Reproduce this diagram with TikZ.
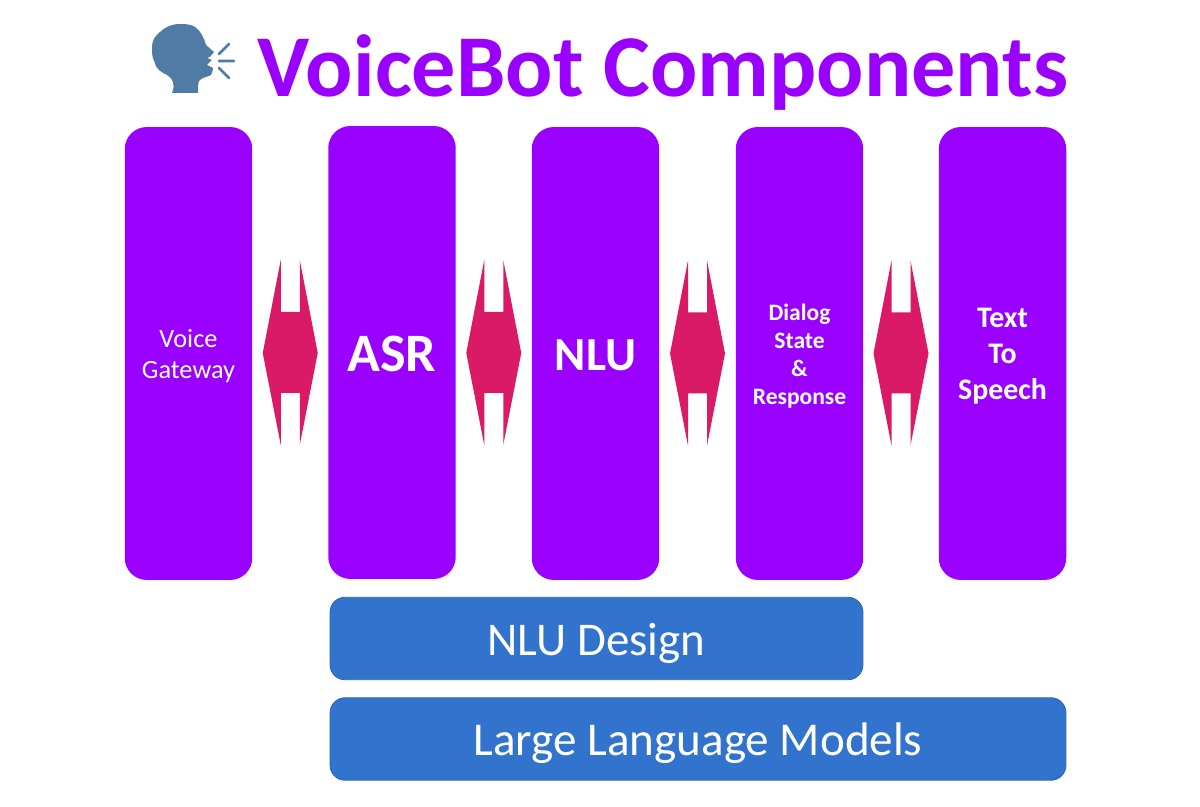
\documentclass[tikz,border=0pt]{standalone}
\usepackage{fontspec}
\setmainfont{Carlito}
\usetikzlibrary{calc}
\definecolor{botpurple}{HTML}{9900FF}
\definecolor{botpink}{HTML}{DA1A66}
\definecolor{botblue}{HTML}{3273CE}
\definecolor{botedge}{HTML}{2B68BC}
\definecolor{headblue}{HTML}{4F7BA4}
\newcommand{\toppad}[1]{\rule{0pt}{#1}}
\tikzset{
  comp/.style={fill=botpurple,text=white,rounded corners=.44cm,minimum width=2.55cm,minimum height=9.06cm,align=center,inner sep=0pt},
  layer/.style={fill=botblue,draw=botedge,line width=.5pt,text=white,rounded corners=.3cm,minimum height=1.65cm,inner sep=0pt},
}
\begin{document}
\begin{tikzpicture}[x=.02cm,y=-.02cm]
  \useasboundingbox (0,0) rectangle (1200,807);
  \node[text=botpurple,font=\bfseries\fontsize{50.2}{60}\selectfont] (title) at (663,72) {VoiceBot Components};
  % speaking head
  \fill[headblue] (180,24) .. controls (188,24) and (192,25) .. (195,27)
    .. controls (201,31) and (204,38) .. (206,45) -- (214,52) -- (210,57) -- (207,58) -- (212,60)
    -- (207,65) -- (213,68) .. controls (213,71) and (212,73) .. (211,75)
    .. controls (207,77) and (205,77) .. (203,78) .. controls (199,80) and (198,82) .. (198,85)
    -- (198,93) -- (172,93) .. controls (174,88) and (174,85) .. (173,82)
    .. controls (171,78) and (170,77) .. (167,75) .. controls (159,71) and (155,67) .. (155,63)
    .. controls (152,58) and (152,53) .. (152,48) .. controls (152,40) and (155,36) .. (160,32)
    .. controls (165,27) and (172,24) .. (180,24) -- cycle;
  \draw[headblue,line width=1.5pt,line cap=round] (219,54) -- (229,44) (219,61) -- (234,61) (219,68) -- (229,78);
  \node[comp,font=\fontsize{15}{17.6}\selectfont] (gateway) at (188.5,353.5) {\toppad{13.6pt}Voice\\Gateway};
  \node[comp,font=\bfseries\fontsize{30.8}{36}\selectfont] (asr) at (392,352.5) {\toppad{22pt}ASR};
  \node[comp,font=\bfseries\fontsize{27}{32}\selectfont] (nlu) at (595.5,353.5) {\toppad{19pt}NLU};
  \node[comp,font=\bfseries\fontsize{13.4}{15.9}\selectfont] (dialog) at (799.5,353.5) {\toppad{12.4pt}Dialog\\State\\\&\\Response};
  \node[comp,font=\bfseries\fontsize{17}{20.5}\selectfont] (tts) at (1002.5,353.5) {\toppad{14.6pt}Text\\To\\Speech};
  \foreach \from/\to in {gateway/asr,asr/nlu,nlu/dialog,dialog/tts}{
    \coordinate (mid) at ($(\from.east)!.5!(\to.west)$);
    \fill[botpink,shift={(mid)}] (-9.5,-93) -- (-9.5,-41) -- (9.5,-41) -- (9.5,-93) -- (27.5,0)
      -- (9.5,92) -- (9.5,40) -- (-9.5,40) -- (-9.5,92) -- (-27.5,0) -- cycle;
  }
  \node[layer,minimum width=10.66cm,font=\fontsize{26.7}{32}\selectfont] (design) at (596.5,638.5) {\toppad{23.5pt}NLU Design};
  \node[layer,minimum width=14.72cm,font=\fontsize{26.8}{32}\selectfont] (models) at (698,739) {\toppad{23.5pt}Large Language Models};
\end{tikzpicture}
\end{document}
